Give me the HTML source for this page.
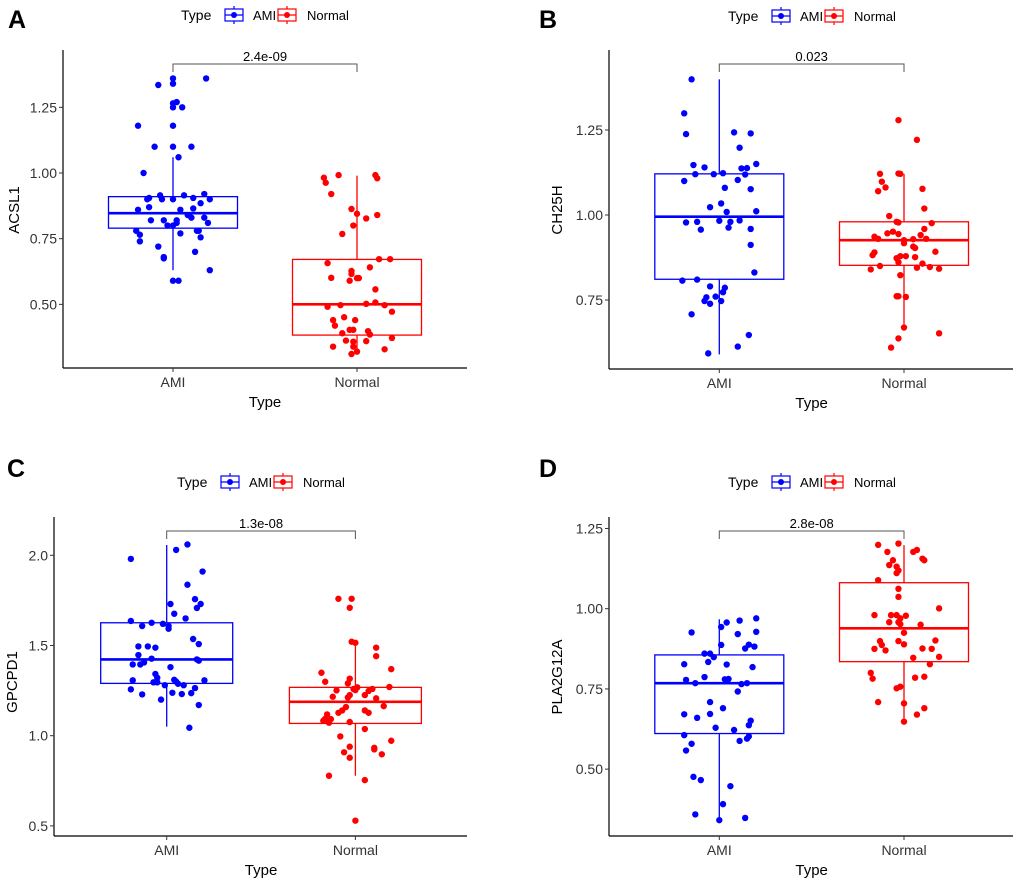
<!DOCTYPE html>
<html><head><meta charset="utf-8"><style>
body{margin:0;background:#fff;}
svg{display:block;font-family:"Liberation Sans",Arial,sans-serif;}
</style></head><body>
<svg id="fig" width="1020" height="881" viewBox="0 0 1020 881" xmlns="http://www.w3.org/2000/svg"></svg>
<script>
// ===== Panel A (ACSL1) =====
const aAmiVal=[1.36,1.36,1.34,1.335,1.27,1.265,1.25,1.25,1.18,1.18,1.10,1.10,1.10,1.06,1.00,0.86,0.87,0.90,0.905,0.915,0.90,0.90,0.915,0.905,0.92,0.885,0.90,0.82,0.82,0.82,0.81,0.86,0.84,0.83,0.865,0.83,0.81,0.80,0.80,0.78,0.765,0.77,0.78,0.78,0.755,0.74,0.72,0.70,0.68,0.675,0.63,0.59,0.59];
const aAmiJit=[0,0.18,0,-0.08,0.02,0,0,0.05,-0.19,0,-0.10,0,0.10,0.03,-0.16,-0.19,-0.13,-0.14,-0.13,-0.07,-0.06,0,0.06,0.11,0.17,0.15,0.20,-0.12,-0.05,0.02,0.02,0.04,0.08,0.10,0.11,0.17,0.19,-0.03,0,-0.20,-0.18,0.04,0.14,0.13,0.15,-0.18,-0.08,0.12,-0.05,-0.05,0.20,0,0.03];
const aNorVal=[0.982,0.963,0.992,0.992,0.98,0.92,0.863,0.845,0.827,0.84,0.80,0.768,0.657,0.672,0.672,0.641,0.627,0.616,0.601,0.59,0.60,0.60,0.557,0.491,0.497,0.502,0.507,0.497,0.472,0.451,0.44,0.44,0.419,0.403,0.403,0.398,0.39,0.385,0.362,0.358,0.36,0.372,0.339,0.339,0.329,0.32,0.311];
const aNorJit=[-0.18,-0.17,-0.10,0.10,0.11,-0.14,-0.03,0,0.05,0.11,-0.02,-0.08,-0.16,0.12,0.18,0.07,-0.03,-0.03,-0.14,-0.04,0,0.01,0.10,-0.16,-0.09,0.05,0.10,0.15,0.19,-0.07,-0.13,-0.01,-0.12,-0.04,-0.02,0.06,-0.08,0.07,-0.06,-0.02,0.05,0.19,-0.13,-0.02,0.15,0,-0.03];
const aAmiBox=[0.63,0.79,0.847,0.91,1.06];
const aNorBox=[0.315,0.383,0.50,0.671,0.99];
const aTicks=[0.50,0.75,1.00,1.25];
const aTickLabels=["0.50","0.75","1.00","1.25"];
// ===== Panel B (CH25H) =====
const bAmiVal=[1.399,1.299,1.238,1.243,1.24,1.198,1.147,1.14,1.15,1.137,1.138,1.119,1.12,1.12,1.123,1.10,1.103,1.08,1.076,1.034,1.023,1.009,1.011,0.978,0.98,0.983,0.98,0.984,0.957,0.963,0.959,0.912,0.831,0.807,0.81,0.79,0.786,0.773,0.758,0.76,0.747,0.739,0.747,0.708,0.647,0.613,0.593];
const bAmiJit=[-0.15,-0.19,-0.18,0.08,0.17,0.11,-0.14,-0.08,0.20,0.12,0.15,0.14,-0.13,-0.03,0.02,-0.19,0.10,0.03,0.17,0.01,-0.05,0.04,0.20,-0.18,-0.12,0,0.06,0.11,-0.10,0.05,0.17,0.17,0.19,-0.20,-0.12,-0.05,0.03,0.02,-0.07,-0.02,-0.08,-0.05,0.01,-0.15,0.16,0.10,-0.06];
const bNorVal=[1.279,1.221,1.121,1.122,1.121,1.098,1.081,1.07,1.077,1.019,0.997,0.98,0.978,0.976,0.959,0.946,0.951,0.944,0.941,0.936,0.93,0.926,0.929,0.93,0.917,0.907,0.903,0.89,0.882,0.892,0.873,0.879,0.879,0.876,0.861,0.857,0.85,0.84,0.845,0.847,0.842,0.823,0.761,0.761,0.759,0.669,0.652,0.637,0.61];
const bNorJit=[-0.03,0.07,-0.13,-0.03,-0.02,-0.12,-0.10,-0.14,0.10,0.11,-0.08,-0.04,-0.03,0.15,0.11,-0.09,-0.06,-0.03,0.09,-0.16,-0.14,0,0.05,0.12,0,0.05,0.06,-0.16,-0.17,0.17,-0.04,-0.02,0.01,0.06,-0.03,0.10,-0.13,-0.18,0.07,0.14,0.19,-0.02,-0.04,-0.03,0.01,0,0.19,-0.03,-0.07];
const bAmiBox=[0.59,0.811,0.995,1.121,1.399];
const bNorBox=[0.667,0.852,0.926,0.98,1.121];
const bTicks=[0.75,1.00,1.25];
const bTickLabels=["0.75","1.00","1.25"];
// ===== Panel C (GPCPD1) =====
const cAmiVal=[2.06,2.03,1.98,1.91,1.837,1.757,1.73,1.708,1.73,1.676,1.65,1.636,1.626,1.608,1.62,1.608,1.593,1.536,1.508,1.495,1.495,1.488,1.447,1.427,1.423,1.416,1.395,1.395,1.406,1.38,1.342,1.321,1.307,1.296,1.296,1.31,1.30,1.288,1.28,1.307,1.28,1.257,1.264,1.229,1.238,1.231,1.236,1.20,1.17,1.044];
const cAmiJit=[0.11,0.05,-0.19,0.19,0.11,0.15,0.18,0.16,0.02,0.04,0.10,-0.19,-0.08,-0.13,-0.02,0.01,0.01,0.14,0.17,-0.15,-0.10,-0.06,-0.15,-0.08,0.16,0.17,-0.18,-0.14,-0.12,0.02,-0.06,-0.05,-0.18,-0.07,-0.05,0.04,0.05,0.06,0.09,0.20,-0.01,-0.19,0.15,-0.13,0.03,0.08,0.13,-0.03,0.17,0.12];
const cNorVal=[1.759,1.759,1.709,1.521,1.515,1.488,1.441,1.369,1.349,1.299,1.316,1.29,1.27,1.251,1.259,1.268,1.253,1.259,1.248,1.216,1.225,1.212,1.225,1.207,1.159,1.164,1.127,1.14,1.127,1.14,1.118,1.094,1.092,1.072,1.083,1.076,1.037,0.996,0.939,0.933,0.924,0.972,0.908,0.878,0.897,0.778,0.754,0.529];
const cNorJit=[-0.09,-0.02,-0.03,-0.02,0,0.11,0.11,0.19,-0.18,-0.16,-0.03,-0.04,0.18,-0.10,-0.01,0.01,0,0.09,0.07,-0.12,-0.03,-0.04,0.05,0.11,-0.05,0.15,-0.09,0.05,0.07,-0.07,-0.15,-0.16,-0.13,-0.14,-0.17,-0.03,0.05,-0.08,-0.03,0.10,0.10,0.19,-0.06,-0.03,0.14,-0.14,0.05,0];
const cAmiBox=[1.05,1.29,1.423,1.626,2.057];
const cNorBox=[0.778,1.068,1.188,1.268,1.497];
const cTicks=[0.5,1.0,1.5,2.0];
const cTickLabels=["0.5","1.0","1.5","2.0"];
// ===== Panel D (PLA2G12A) =====
const dAmiVal=[0.97,0.963,0.957,0.943,0.926,0.928,0.921,0.888,0.887,0.882,0.876,0.86,0.86,0.849,0.834,0.827,0.826,0.818,0.787,0.778,0.78,0.781,0.777,0.768,0.765,0.768,0.742,0.709,0.69,0.671,0.672,0.66,0.651,0.637,0.629,0.622,0.606,0.602,0.595,0.588,0.579,0.558,0.476,0.466,0.447,0.391,0.359,0.348,0.341];
const dAmiJit=[0.20,0.11,0.04,0.01,-0.15,0.20,0.10,0.16,0.01,0.19,0.14,-0.08,-0.05,-0.03,-0.06,-0.19,0.04,0.18,-0.08,-0.18,0.03,0.05,0.04,-0.13,0.12,0.15,0.10,-0.05,0.02,-0.19,-0.05,-0.12,0.17,0.16,-0.02,0.08,-0.19,0.16,0.15,0.11,-0.15,-0.18,-0.14,-0.10,0.06,0.02,-0.13,0.14,0];
const dNorVal=[1.203,1.199,1.177,1.177,1.183,1.156,1.151,1.151,1.136,1.131,1.119,1.111,1.089,1.062,1.037,1.001,0.98,0.98,0.98,0.978,0.97,0.958,0.958,0.952,0.95,0.925,0.899,0.887,0.899,0.889,0.901,0.875,0.87,0.876,0.875,0.847,0.85,0.827,0.80,0.782,0.785,0.788,0.752,0.757,0.709,0.705,0.69,0.67,0.648];
const dNorJit=[-0.03,-0.14,-0.09,0.05,0.07,0.10,0.11,-0.06,-0.08,-0.04,-0.03,-0.04,-0.14,-0.03,-0.03,0.19,-0.16,-0.07,-0.04,0.01,-0.02,-0.08,-0.03,-0.02,0.09,0,-0.13,-0.12,-0.03,0,0.17,-0.16,-0.10,0.10,0.15,0.05,0.19,0.14,-0.18,-0.17,0.06,0.11,-0.04,-0.02,-0.14,0,0.11,0.07,0];
const dAmiBox=[0.341,0.611,0.768,0.856,0.967];
const dNorBox=[0.648,0.835,0.939,1.081,1.198];
const dTicks=[0.50,0.75,1.00,1.25];
const dTickLabels=["0.50","0.75","1.00","1.25"];

const categories=["AMI","Normal"];
const colors=["#0000FF","#FF0000"];
const NS="http://www.w3.org/2000/svg";
const svg=document.getElementById('fig');
function mk(tag,attrs,parent,text){const e=document.createElementNS(NS,tag);for(const k in attrs)e.setAttribute(k,attrs[k]);if(text!==undefined)e.textContent=text;(parent||svg).appendChild(e);return e;}

const panels=[
 {id:'a',letter:'A',gene:'ACSL1',p:'2.4e-09',vals:[aAmiVal,aNorVal],jit:[aAmiJit,aNorJit],box:[aAmiBox,aNorBox],ticks:aTicks,tl:aTickLabels,
  left:63,right:467,top:50,bottom:368,y0:173,v0:1,k:262.7,c0:173,sp:184,hw:64.5,brY:64,legY:15,legX:181,letX:8,letY:28,ylX:14,ylY:210},
 {id:'b',letter:'B',gene:'CH25H',p:'0.023',vals:[bAmiVal,bNorVal],jit:[bAmiJit,bNorJit],box:[bAmiBox,bNorBox],ticks:bTicks,tl:bTickLabels,
  left:609,right:1013,top:50,bottom:369,y0:215,v0:1,k:340,c0:719.3,sp:184.7,hw:64.5,brY:64,legY:16,legX:728,letX:539,letY:28,ylX:557,ylY:210},
 {id:'c',letter:'C',gene:'GPCPD1',p:'1.3e-08',vals:[cAmiVal,cNorVal],jit:[cAmiJit,cNorJit],box:[cAmiBox,cNorBox],ticks:cTicks,tl:cTickLabels,
  left:54,right:467,top:517,bottom:836,y0:735.7,v0:1,k:180.4,c0:166.7,sp:188.7,hw:66,brY:531,legY:482,legX:177,letX:7,letY:477,ylX:12,ylY:682},
 {id:'d',letter:'D',gene:'PLA2G12A',p:'2.8e-08',vals:[dAmiVal,dNorVal],jit:[dAmiJit,dNorJit],box:[dAmiBox,dNorBox],ticks:dTicks,tl:dTickLabels,
  left:609,right:1013,top:517,bottom:836,y0:608.7,v0:1,k:320.9,c0:719.3,sp:184.7,hw:64.5,brY:531,legY:482,legX:728,letX:539,letY:477,ylX:557,ylY:677}
];

panels.forEach(P=>{
  const g=mk('g',{});
  
  
  const yS=v=>P.y0-(v-P.v0)*P.k;
  const xS=(i,j)=>P.c0+(i+(j||0))*P.sp;
  // letter
  const L=mk('text',{x:P.letX,y:P.letY,'font-size':25,'font-weight':'bold',fill:'#000'},g,P.letter);
  
  
  // legend
  const lg=mk('g',{},g);
  
  
  mk('text',{x:P.legX,y:P.legY+5,'font-size':14,fill:'#000'},lg,'Type');
  const lx=[P.legX+44,P.legX+97], tx=[P.legX+72,P.legX+126];
  categories.forEach((c,i)=>{
    const e=mk('g',{},lg);
    
    
    const col=colors[i];
    mk('line',{x1:lx[i]+9,x2:lx[i]+9,y1:P.legY-9,y2:P.legY+9,stroke:col,'stroke-width':1.2},e);
    mk('rect',{x:lx[i],y:P.legY-6,width:18,height:12,fill:'#fff',stroke:col,'stroke-width':1.2},e);
    mk('line',{x1:lx[i],x2:lx[i]+18,y1:P.legY,y2:P.legY,stroke:col,'stroke-width':1.2},e);
    mk('circle',{cx:lx[i]+9,cy:P.legY,r:3,fill:col},e);
    mk('text',{x:tx[i],y:P.legY+5,'font-size':13,fill:'#000'},e,c);
  });
  // axes
  const ax=mk('g',{},g);
  
  
  mk('line',{x1:P.left,x2:P.left,y1:P.top,y2:P.bottom,stroke:'#000','stroke-width':1.2},ax);
  mk('line',{x1:P.left,x2:P.right,y1:P.bottom,y2:P.bottom,stroke:'#000','stroke-width':1.2},ax);
  P.ticks.forEach((t,i)=>{
    const y=yS(t);
    mk('line',{x1:P.left-4,x2:P.left,y1:y,y2:y,stroke:'#333','stroke-width':1},ax);
    const tt=mk('text',{x:P.left-6,y:y+5,'font-size':14,fill:'#333','text-anchor':'end'},ax,P.tl[i]);
    
    
  });
  categories.forEach((c,i)=>{
    const x=xS(i);
    mk('line',{x1:x,x2:x,y1:P.bottom,y2:P.bottom+4,stroke:'#333','stroke-width':1},ax);
    const tt=mk('text',{x:x,y:P.bottom+19,'font-size':14,fill:'#333','text-anchor':'middle'},ax,c);
    
    
  });
  const xt=mk('text',{x:(xS(0)+xS(1))/2,y:P.bottom+39,'font-size':15,fill:'#000','text-anchor':'middle'},ax,'Type');
  
  
  const yt=mk('text',{x:0,y:0,'font-size':15,fill:'#000','text-anchor':'middle',transform:`translate(${P.ylX+5},${P.ylY}) rotate(-90)`},ax,P.gene);
  
  
  // boxes
  categories.forEach((c,i)=>{
    const b=P.box[i], col=colors[i], x=xS(i);
    const bg=mk('g',{},g);
    
    
    mk('line',{x1:x,x2:x,y1:yS(b[4]),y2:yS(b[3]),stroke:col,'stroke-width':1.3},bg);
    mk('line',{x1:x,x2:x,y1:yS(b[1]),y2:yS(b[0]),stroke:col,'stroke-width':1.3},bg);
    mk('rect',{x:x-P.hw,y:yS(b[3]),width:2*P.hw,height:yS(b[1])-yS(b[3]),fill:'none',stroke:col,'stroke-width':1.3},bg);
    mk('line',{x1:x-P.hw,x2:x+P.hw,y1:yS(b[2]),y2:yS(b[2]),stroke:col,'stroke-width':2.6},bg);
  });
  // points
  categories.forEach((c,i)=>{
    const col=colors[i];
    P.vals[i].forEach((v,j)=>{
      const pt=mk('circle',{cx:xS(i,P.jit[i][j]),cy:yS(v),r:3.2,fill:col},g);
      
      
    });
  });
  // bracket
  const br=mk('g',{},g);
  
  
  mk('path',{d:`M${xS(0)},${P.brY+8}V${P.brY}H${xS(1)}V${P.brY+8}`,fill:'none',stroke:'#555','stroke-width':1},br);
  mk('text',{x:(xS(0)+xS(1))/2,y:P.brY-3,'font-size':13,fill:'#000','text-anchor':'middle'},br,P.p);
});
</script>
</body></html>
